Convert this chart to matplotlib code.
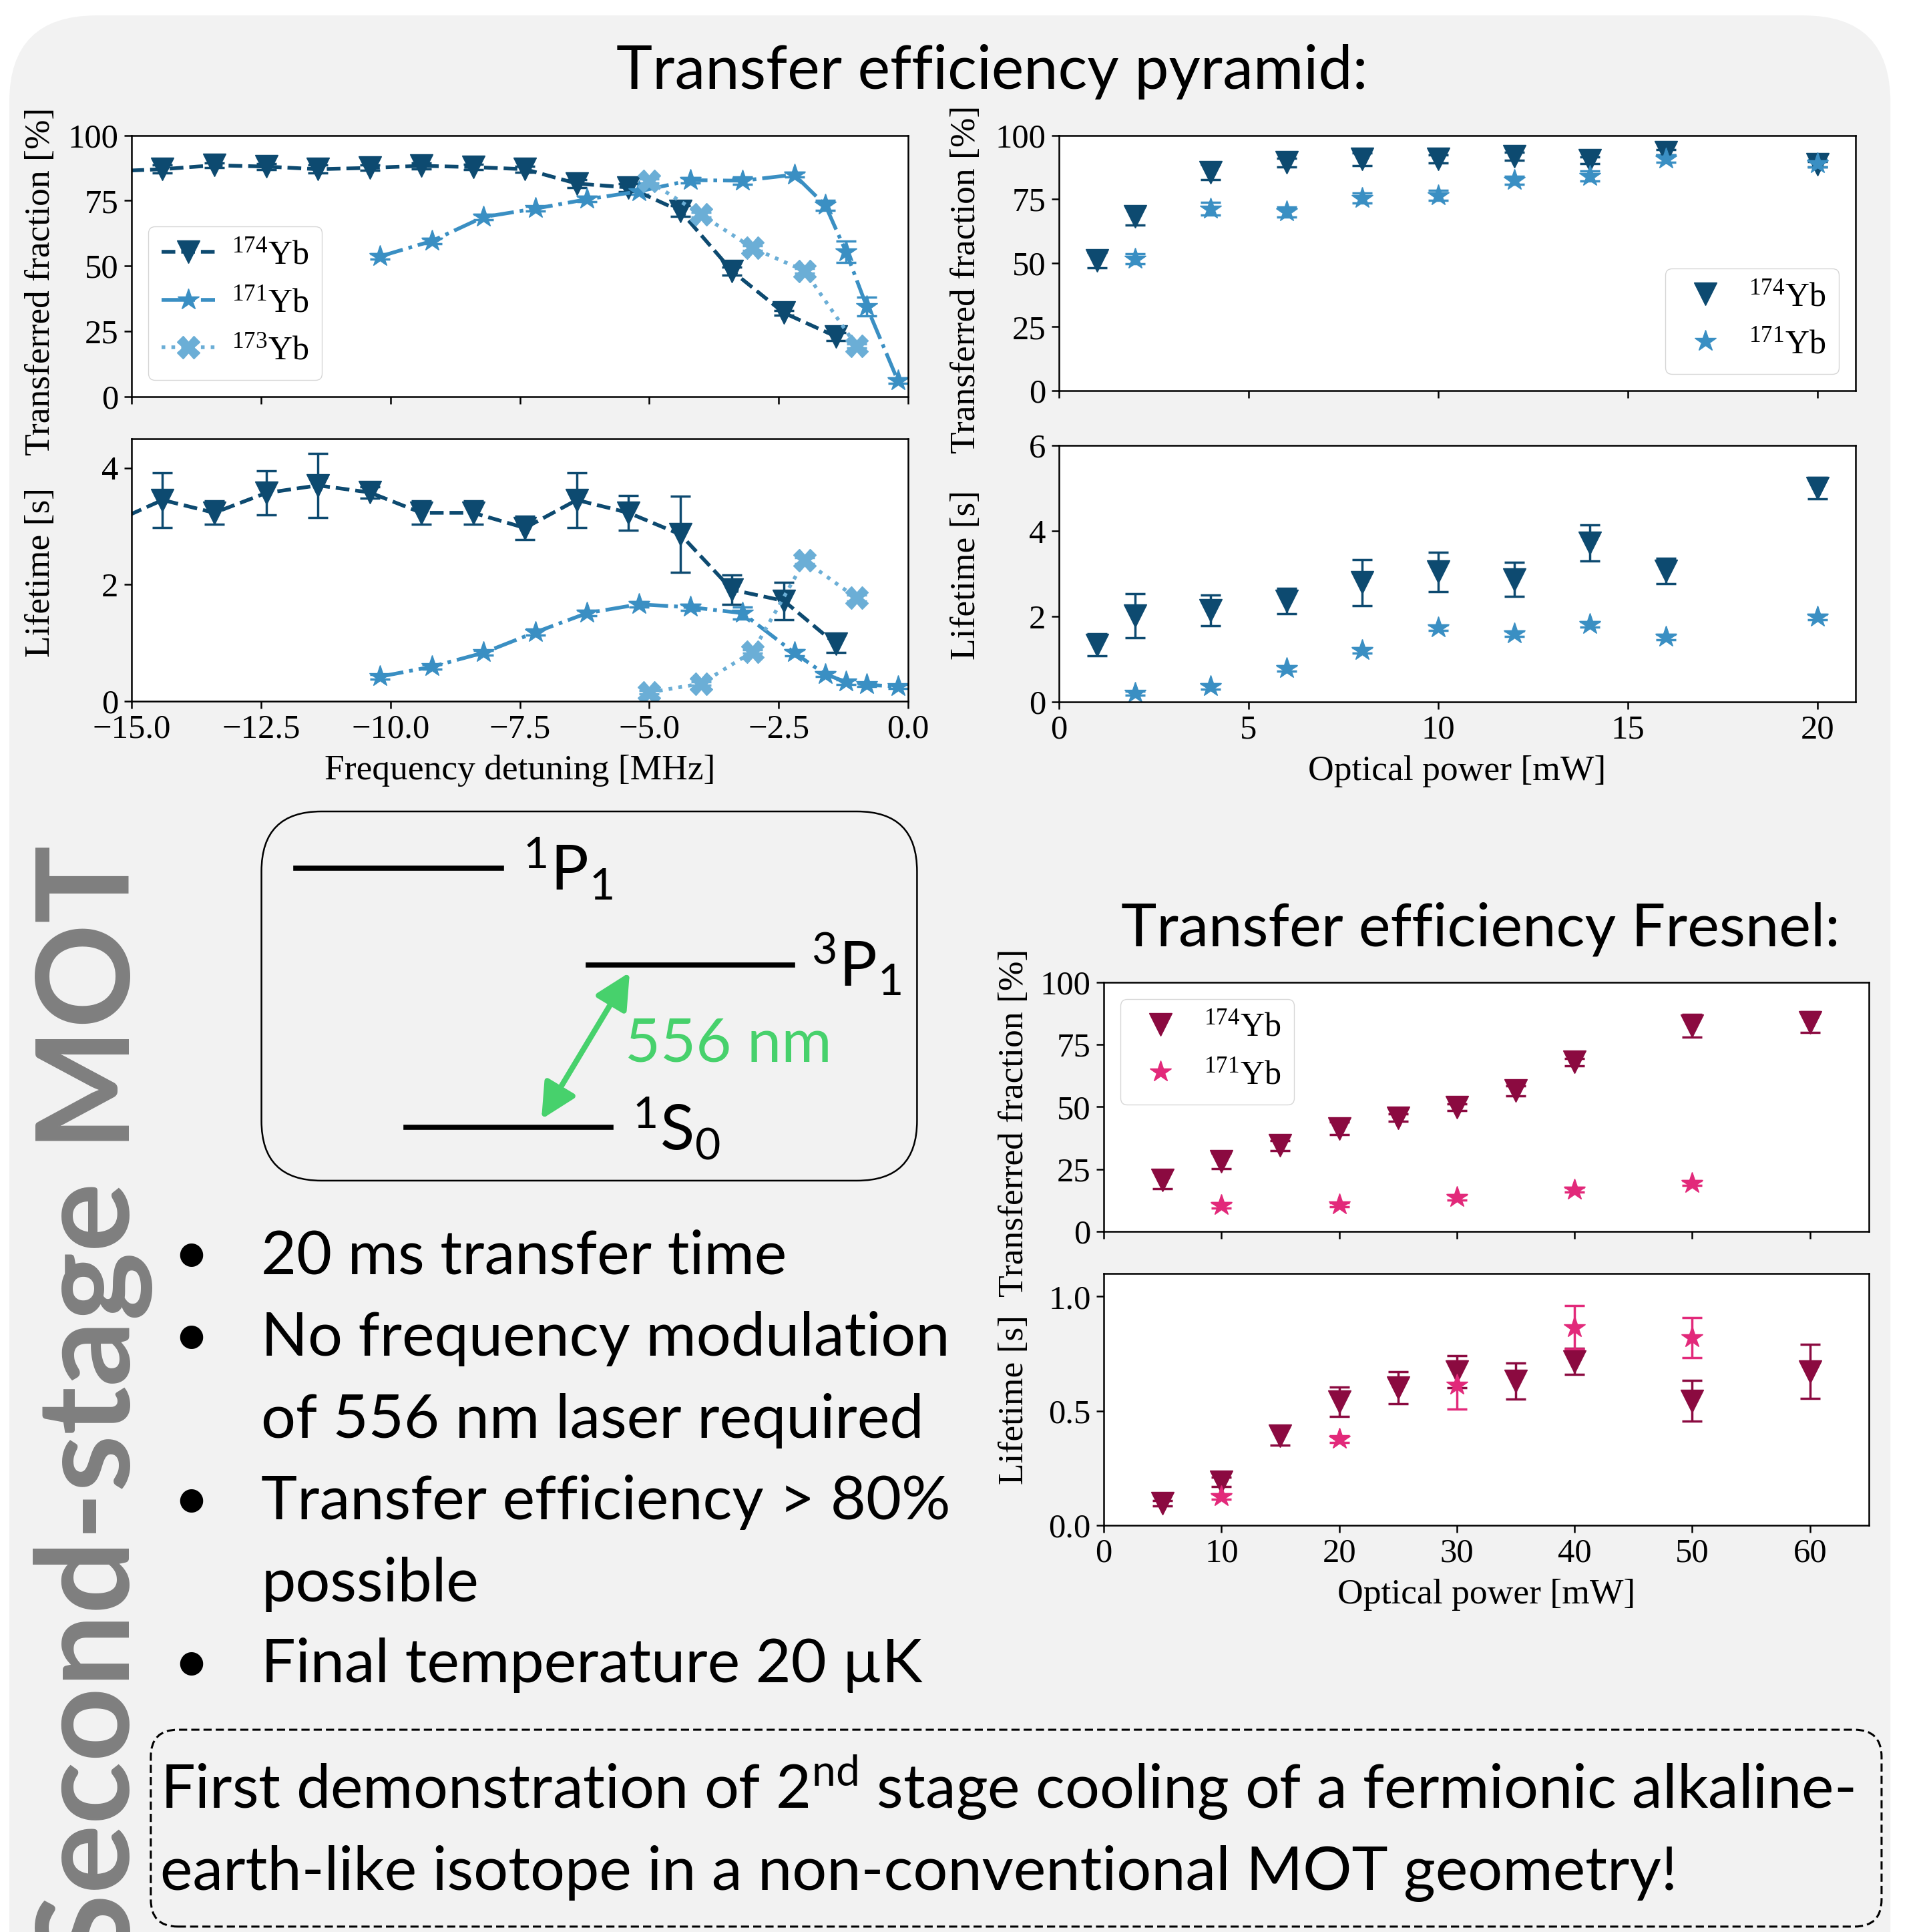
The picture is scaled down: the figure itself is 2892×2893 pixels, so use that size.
import numpy as np
import matplotlib
matplotlib.use('Agg')
import matplotlib.pyplot as plt
from matplotlib.patches import FancyBboxPatch, FancyArrowPatch
from matplotlib.lines import Line2D

# ---------------- pyramid MOT: detuning scan ----------------
det_174 = [-15.4, -14.4, -13.4, -12.4, -11.4, -10.4, -9.4, -8.4, -7.4, -6.4, -5.4, -4.4, -3.4, -2.4, -1.4]
frac_174 = [86.2, 87.0, 88.5, 88.0, 87.0, 87.5, 88.3, 87.8, 87.0, 81.5, 80.0, 71.0, 48.0, 32.0, 23.0]
frac_174_err = [1.5, 1.5, 1.0, 1.2, 1.5, 1.0, 1.2, 1.0, 1.2, 1.5, 1.5, 2.0, 1.5, 1.0, 1.5]
life_174 = [3.05, 3.45, 3.23, 3.57, 3.70, 3.58, 3.23, 3.23, 2.97, 3.45, 3.23, 2.86, 1.91, 1.72, 0.98]
life_174_err = [0.3, 0.47, 0.2, 0.38, 0.55, 0.1, 0.2, 0.2, 0.2, 0.47, 0.3, 0.65, 0.25, 0.32, 0.15]

det_171 = [-10.2, -9.2, -8.2, -7.2, -6.2, -5.2, -4.2, -3.2, -2.2, -1.6, -1.2, -0.8, -0.2]
frac_171 = [53.6, 59.5, 68.7, 71.9, 75.5, 78.5, 82.8, 82.6, 84.9, 73.2, 55.4, 34.4, 6.1]
frac_171_err = [1.0, 1.0, 1.0, 1.0, 1.0, 1.0, 1.0, 1.5, 1.0, 2.0, 4.0, 3.5, 1.0]
life_171 = [0.42, 0.59, 0.83, 1.18, 1.51, 1.66, 1.61, 1.51, 0.83, 0.46, 0.33, 0.28, 0.25]
life_171_err = [0.04, 0.04, 0.04, 0.05, 0.05, 0.05, 0.05, 0.1, 0.05, 0.04, 0.04, 0.03, 0.03]

det_173 = [-5.0, -4.0, -3.0, -2.0, -1.0]
frac_173 = [82.4, 69.6, 56.8, 48.1, 19.4]
frac_173_err = [0.8, 0.8, 0.8, 0.8, 0.8]
life_173 = [0.15, 0.30, 0.85, 2.41, 1.77]
life_173_err = [0.03, 0.03, 0.03, 0.05, 0.05]

# ---------------- pyramid MOT: power scan ----------------
pow_174 = [1, 2, 4, 6, 8, 10, 12, 14, 16, 20]
pfrac_174 = [51.0, 68.3, 85.5, 89.3, 90.6, 90.8, 91.8, 90.2, 93.4, 88.7]
pfrac_174_err = [3.0, 3.5, 3.0, 1.7, 2.5, 1.6, 1.6, 1.2, 1.0, 1.0]
plife_174 = [1.33, 2.01, 2.14, 2.36, 2.79, 3.04, 2.86, 3.71, 3.06, 5.0]
plife_174_err = [0.26, 0.52, 0.36, 0.3, 0.54, 0.46, 0.4, 0.42, 0.3, 0.25]

pow_171 = [2, 4, 6, 8, 10, 12, 14, 16, 20]
pfrac_171 = [51.6, 71.2, 70.0, 75.4, 76.4, 82.4, 84.0, 90.8, 89.0]
pfrac_171_err = [2.0, 2.5, 2.0, 2.0, 2.0, 1.5, 2.0, 1.5, 1.5]
plife_171 = [0.2, 0.36, 0.78, 1.2, 1.73, 1.59, 1.81, 1.51, 1.98]
plife_171_err = [0.05, 0.06, 0.06, 0.06, 0.06, 0.06, 0.06, 0.06, 0.06]

# ---------------- Fresnel MOT: power scan ----------------
fpow_174 = [5, 10, 15, 20, 25, 30, 35, 40, 50, 60]
ffrac_174 = [20.7, 28.2, 34.5, 41.3, 45.6, 49.8, 56.4, 67.9, 82.4, 83.9]
ffrac_174_err = [3.6, 3.0, 2.0, 2.5, 1.5, 1.3, 2.0, 1.5, 4.6, 4.2]
flife_174 = [0.097, 0.19, 0.39, 0.54, 0.60, 0.67, 0.63, 0.716, 0.544, 0.672]
flife_174_err = [0.012, 0.02, 0.04, 0.063, 0.07, 0.07, 0.078, 0.057, 0.09, 0.118]

fpow_171 = [10, 20, 30, 40, 50]
ffrac_171 = [10.5, 10.7, 13.6, 16.7, 19.4]
ffrac_171_err = [1.0, 0.8, 1.0, 1.0, 1.0]
flife_171 = [0.125, 0.376, 0.613, 0.864, 0.82]
flife_171_err = [0.012, 0.015, 0.106, 0.095, 0.088]

isotope_labels = [r'$^{174}$Yb', r'$^{171}$Yb', r'$^{173}$Yb']

bullets = ['20 ms transfer time', 'No frequency modulation', 'of 556 nm laser required',
           'Transfer efficiency > 80%', 'possible', 'Final temperature 20 µK']
bullet_marks = [True, True, False, True, False, True]

C174 = '#0d4a70'
C171 = '#3a8fc3'
C173 = '#6baed6'
F174 = '#8b0a40'
F171 = '#e2297a'
GREEN = '#47d16c'
SANS = ['Lato', 'DejaVu Sans']

plt.rcParams['font.family'] = ['Liberation Serif', 'DejaVu Serif']
plt.rcParams['mathtext.default'] = 'regular'
plt.rcParams['font.size'] = 36
plt.rcParams['axes.linewidth'] = 1.8
for a in ['xtick', 'ytick']:
    plt.rcParams[a + '.major.size'] = 8
    plt.rcParams[a + '.major.width'] = 1.8
    plt.rcParams[a + '.major.pad'] = 6
    plt.rcParams[a + '.labelsize'] = 36.5


def draw_series(ax, x, y, err, color, marker, ls):
    eb = ax.errorbar(x, y, yerr=err, color=color, marker=marker, ls=ls, lw=4,
                     ms=24, elinewidth=2.5, capsize=11, capthick=2.5)
    return eb[0]


def style_axes(ax, xlim, ylim, xticks, yticks, xlabel=None, ylabel=None, label_y=0.5):
    ax.set_xlim(xlim)
    ax.set_ylim(ylim)
    ax.set_xticks(xticks)
    ax.set_yticks(yticks)
    if xlabel is None:
        ax.tick_params(labelbottom=False)
    else:
        ax.set_xlabel(xlabel, fontsize=38.5, labelpad=10)
    if ylabel is not None:
        ax.set_ylabel(ylabel, fontsize=38.5)
        ax.yaxis.set_label_coords(-0.096, label_y)


def add_legend(ax, handles, labels, loc):
    ax.legend(handles, labels, loc=loc, fontsize=36, handlelength=1.6, handletextpad=0.5)


fig = plt.figure(figsize=(28.92, 28.93), dpi=100)
fig.patch.set_facecolor('white')

# grey poster panel
panel = FancyBboxPatch((0.0048, -0.1), 0.9742, 1.092, boxstyle='round,pad=0,rounding_size=0.045',
                       transform=fig.transFigure, fc='#f2f2f2', ec='none', zorder=-10)
fig.add_artist(panel)

# ---- pyramid detuning plots ----
ax1 = fig.add_axes([0.0681, 0.7948, 0.4022, 0.1352])
h1 = draw_series(ax1, det_174, frac_174, frac_174_err, C174, 'v', '--')
h2 = draw_series(ax1, det_171, frac_171, frac_171_err, C171, '*', '-.')
h3 = draw_series(ax1, det_173, frac_173, frac_173_err, C173, 'X', ':')
style_axes(ax1, (-15, 0), (0, 100), [-15, -12.5, -10, -7.5, -5, -2.5, 0], [0, 25, 50, 75, 100],
           ylabel='Transferred fraction [%]', label_y=0.44)
add_legend(ax1, [h1, h2, h3], isotope_labels, 'lower left')

ax2 = fig.add_axes([0.0681, 0.6371, 0.4022, 0.1358])
draw_series(ax2, det_174, life_174, life_174_err, C174, 'v', '--')
draw_series(ax2, det_171, life_171, life_171_err, C171, '*', '-.')
draw_series(ax2, det_173, life_173, life_173_err, C173, 'X', ':')
style_axes(ax2, (-15, 0), (0, 4.5), [-15, -12.5, -10, -7.5, -5, -2.5, 0], [0, 2, 4],
           xlabel='Frequency detuning [MHz]', ylabel='Lifetime [s]', label_y=0.49)

# ---- pyramid power plots ----
ax3 = fig.add_axes([0.5484, 0.7978, 0.4125, 0.1322])
g1 = draw_series(ax3, pow_174, pfrac_174, pfrac_174_err, C174, 'v', 'none')
g2 = draw_series(ax3, pow_171, pfrac_171, pfrac_171_err, C171, '*', 'none')
style_axes(ax3, (0, 21), (0, 100), [0, 5, 10, 15, 20], [0, 25, 50, 75, 100],
           ylabel='Transferred fraction [%]', label_y=0.435)
add_legend(ax3, [g1, g2], isotope_labels[:2], 'lower right')

ax4 = fig.add_axes([0.5484, 0.6368, 0.4125, 0.1327])
draw_series(ax4, pow_174, plife_174, plife_174_err, C174, 'v', 'none')
draw_series(ax4, pow_171, plife_171, plife_171_err, C171, '*', 'none')
style_axes(ax4, (0, 21), (0, 6), [0, 5, 10, 15, 20], [0, 2, 4, 6],
           xlabel='Optical power [mW]', ylabel='Lifetime [s]', label_y=0.495)

# ---- Fresnel power plots ----
ax5 = fig.add_axes([0.5716, 0.3626, 0.3962, 0.1291])
k1 = draw_series(ax5, fpow_174, ffrac_174, ffrac_174_err, F174, 'v', 'none')
k2 = draw_series(ax5, fpow_171, ffrac_171, ffrac_171_err, F171, '*', 'none')
style_axes(ax5, (0, 65), (0, 100), [0, 10, 20, 30, 40, 50, 60], [0, 25, 50, 75, 100],
           ylabel='Transferred fraction [%]', label_y=0.435)
add_legend(ax5, [k1, k2], isotope_labels[:2], 'upper left')

ax6 = fig.add_axes([0.5716, 0.2105, 0.3962, 0.1303])
draw_series(ax6, fpow_174, flife_174, flife_174_err, F174, 'v', 'none')
draw_series(ax6, fpow_171, flife_171, flife_171_err, F171, '*', 'none')
style_axes(ax6, (0, 65), (0, 1.1), [0, 10, 20, 30, 40, 50, 60], [0, 0.5, 1.0],
           xlabel='Optical power [mW]', ylabel='Lifetime [s]', label_y=0.5)

# ---- titles ----
fig.text(0.5136, 0.954, 'Transfer efficiency pyramid:', ha='center', va='baseline',
         fontsize=66, family=SANS)
fig.text(0.7666, 0.5102, 'Transfer efficiency Fresnel:', ha='center', va='baseline',
         fontsize=65, family=SANS)

# vertical section title
fig.text(0.0484, 0.5627, 'Second-stage MOT', rotation=90, ha='center', va='top',
         fontsize=140, family=SANS, color='#7f7f7f', fontweight='bold')

# ---- level scheme ----
fig.add_artist(FancyBboxPatch((0.1354, 0.3889), 0.3395, 0.1911,
                              boxstyle='round,pad=0,rounding_size=0.031',
                              transform=fig.transFigure, fc='none', ec='black', lw=1.8))
for x0, x1, y in [(0.1532, 0.2597, 0.5506), (0.3046, 0.4104, 0.5005), (0.2102, 0.3164, 0.4165)]:
    fig.add_artist(Line2D([x0, x1], [y, y], transform=fig.transFigure, color='black', lw=5.5))
fig.text(0.2707, 0.5389, r'$^{1}$P$_{1}$', fontsize=68, family=SANS, va='baseline')
fig.text(0.4201, 0.4894, r'$^{3}$P$_{1}$', fontsize=68, family=SANS, va='baseline')
fig.text(0.3275, 0.4048, r'$^{1}$S$_{0}$', fontsize=68, family=SANS, va='baseline')
fig.add_artist(FancyArrowPatch((0.3261, 0.4967), (0.2804, 0.4207), transform=fig.transFigure,
                               arrowstyle='<|-|>,head_length=0.4,head_width=0.2',
                               mutation_scale=80, color=GREEN, lw=6, shrinkA=0, shrinkB=0))
fig.text(0.3237, 0.4504, '556 nm', fontsize=66, family=SANS, color=GREEN, va='baseline')

# ---- bullet list ----
line_y = [0.3408, 0.2983, 0.2558, 0.2136, 0.1711, 0.1293]
for txt, mark, y in zip(bullets, bullet_marks, line_y):
    if mark:
        fig.text(0.099, y, '•', fontsize=67, family=SANS, ha='center', va='baseline')
    fig.text(0.1353, y, txt, fontsize=66, family=SANS, va='baseline')

# ---- conclusion box ----
fig.add_artist(FancyBboxPatch((0.0781, 0.0028), 0.8963, 0.1019,
                              boxstyle='round,pad=0,rounding_size=0.014',
                              transform=fig.transFigure, fc='none', ec='black', lw=2.2,
                              ls=(0, (4, 2))))
fig.text(0.083, 0.0640, r'First demonstration of 2$^{nd}$ stage cooling of a fermionic alkaline-',
         fontsize=66, family=SANS, va='baseline')
fig.text(0.083, 0.0218, 'earth-like isotope in a non-conventional MOT geometry!',
         fontsize=66, family=SANS, va='baseline')

fig.savefig('out.png', dpi=100)
